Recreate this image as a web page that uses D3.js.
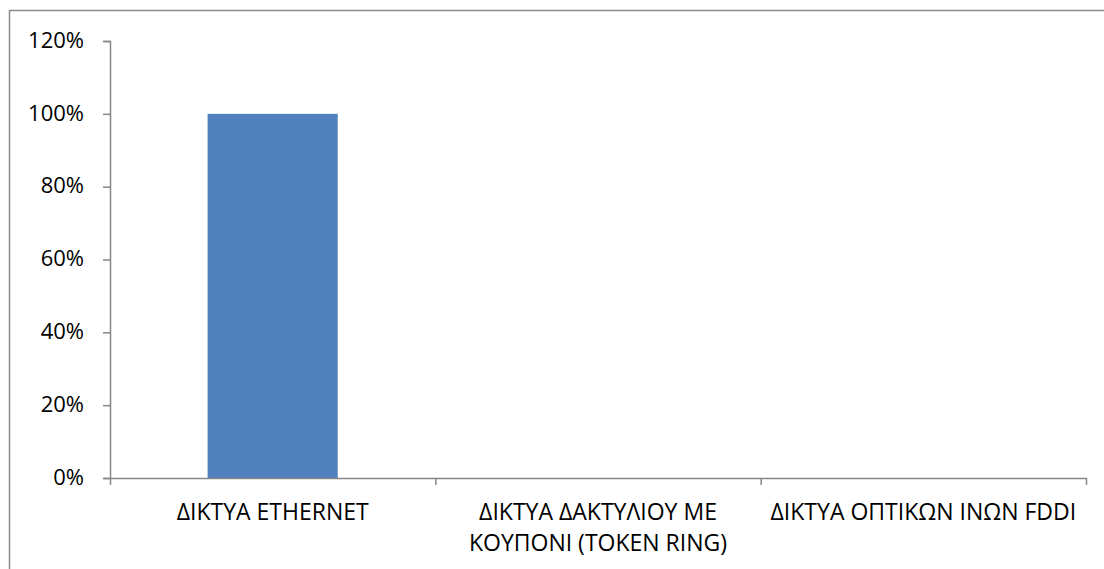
<!DOCTYPE html>
<html>
<head>
<meta charset="utf-8">
<script src="https://cdn.jsdelivr.net/npm/d3@7"></script>
<style>
  html, body { margin: 0; padding: 0; background: #fff; }
  svg { display: block; }
  text { font-family: "Open Sans", "Noto Sans", sans-serif; fill: #000; }
</style>
</head>
<body>
<script>
// Network types and their share
const categories = [
  ["ΔΙΚΤΥΑ ETHERNET"],
  ["ΔΙΚΤΥΑ ΔΑΚΤΥΛΙΟΥ ΜΕ", "ΚΟΥΠΟΝΙ (TOKEN RING)"],
  ["ΔΙΚΤΥΑ ΟΠΤΙΚΩΝ ΙΝΩΝ FDDI"]
];
const values = [1.0, 0, 0];
const yTicks = [0, 0.2, 0.4, 0.6, 0.8, 1.0, 1.2];

const W = 1104, H = 569;
const plot = { left: 110, right: 1086, top: 41, bottom: 478 };

const svg = d3.select("body").append("svg")
  .attr("width", W).attr("height", H);

// chart area frame
svg.append("rect")
  .attr("x", 9.5).attr("y", 10.5)
  .attr("width", W + 20).attr("height", H + 20)
  .attr("fill", "none").attr("stroke", "#8c8c8c").attr("stroke-width", 1.5);

const x = d3.scaleBand()
  .domain(d3.range(categories.length))
  .range([plot.left, plot.right])
  .paddingInner(0).paddingOuter(0);

const y = d3.scaleLinear().domain([0, 1.2]).range([plot.bottom, plot.top]);

const barW = x.bandwidth() * 0.4;

// bars
svg.append("g").selectAll("rect")
  .data(values)
  .join("rect")
  .attr("x", (d, i) => x(i) + (x.bandwidth() - barW) / 2)
  .attr("width", barW)
  .attr("y", d => y(d))
  .attr("height", d => y(0) - y(d))
  .attr("fill", "#4F81BD");

// y axis
const yAxis = d3.axisLeft(y)
  .tickValues(yTicks)
  .tickFormat(d3.format(".0%"))
  .tickSize(7)
  .tickPadding(19);

const gy = svg.append("g")
  .attr("transform", `translate(${plot.left},0)`)
  .call(yAxis);
gy.select(".domain").attr("stroke", "#868686").attr("stroke-width", 1.5);
gy.selectAll(".tick line").attr("stroke", "#868686").attr("stroke-width", 1.5);
gy.selectAll(".tick text").style("font-size", "22px").attr("fill", "#000").attr("dy", "0.28em");

// x axis with ticks at category boundaries
const xAxis = d3.axisBottom(d3.scaleLinear().domain([0, categories.length]).range([plot.left, plot.right]))
  .tickValues(d3.range(categories.length + 1))
  .tickFormat("")
  .tickSize(7)
  .tickSizeOuter(0);

const gx = svg.append("g")
  .attr("transform", `translate(0,${plot.bottom})`)
  .call(xAxis);
gx.select(".domain").attr("stroke", "#868686").attr("stroke-width", 1.5);
gx.selectAll(".tick line").attr("stroke", "#868686").attr("stroke-width", 1.5);

// category labels
const labels = svg.append("g").selectAll("text")
  .data(categories)
  .join("text")
  .attr("x", (d, i) => x(i) + x.bandwidth() / 2)
  .attr("y", 520)
  .attr("text-anchor", "middle")
  .style("font-size", "23px");

labels.selectAll("tspan")
  .data(d => d)
  .join("tspan")
  .attr("x", function () { return d3.select(this.parentNode).attr("x"); })
  .attr("dy", (d, i) => i === 0 ? 0 : 31)
  .text(d => d);
</script>
</body>
</html>
